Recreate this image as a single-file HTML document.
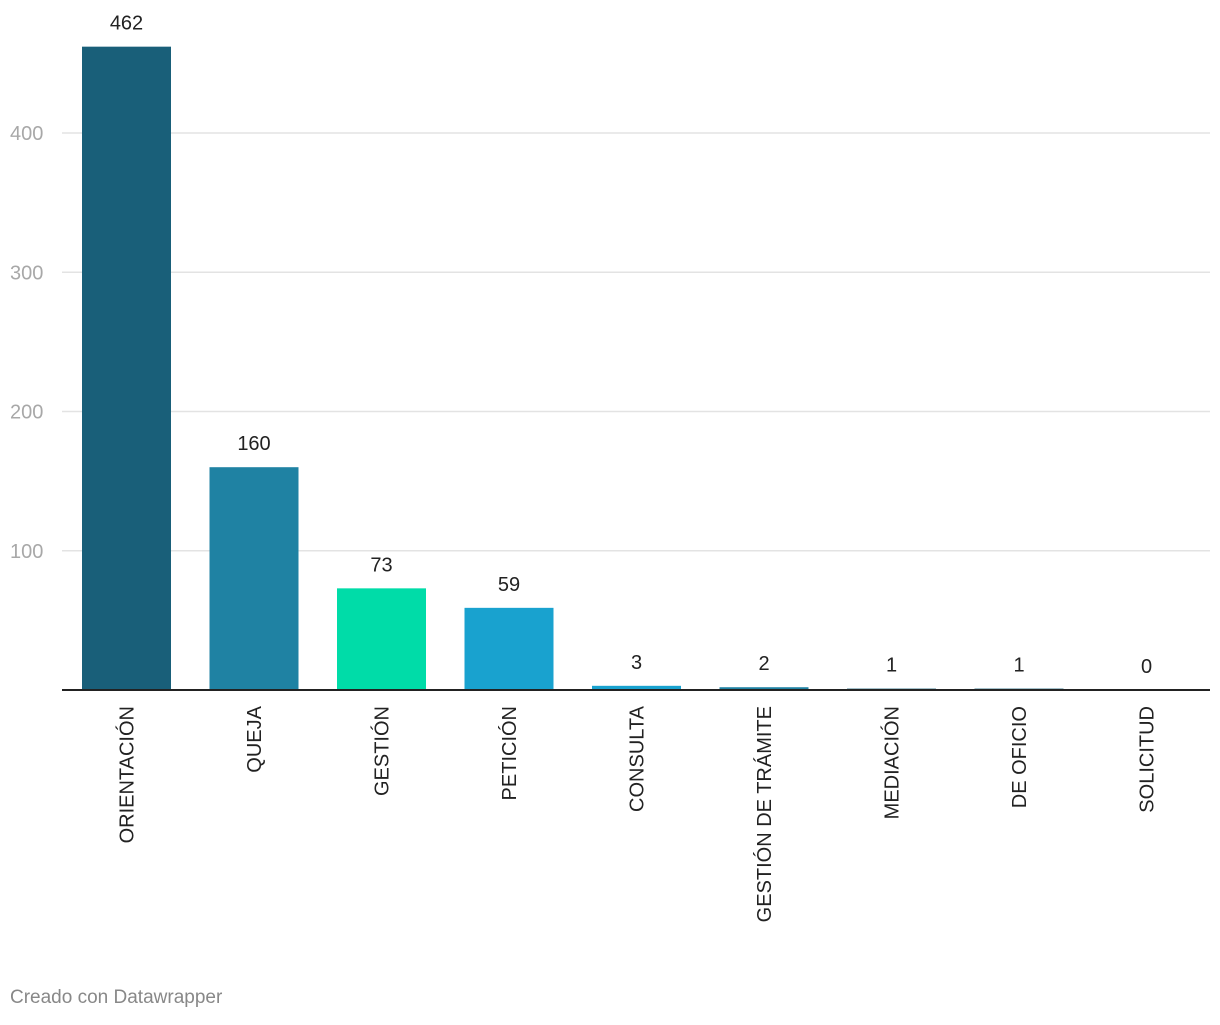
<!DOCTYPE html>
<html><head><meta charset="utf-8"><style>
body{margin:0;background:#fff;font-family:"Liberation Sans",sans-serif;}
svg text{font-family:"Liberation Sans",sans-serif;}
</style></head><body>
<svg width="1220" height="1020">
<g id="grid"></g><g id="bars"></g><g id="labels"></g>
<text x="10" y="1003" font-size="19" fill="#888">Creado con Datawrapper</text>
</svg>
<script>
const categories=["ORIENTACIÓN","QUEJA","GESTIÓN","PETICIÓN","CONSULTA","GESTIÓN DE TRÁMITE","MEDIACIÓN","DE OFICIO","SOLICITUD"];
const values=[462,160,73,59,3,2,1,1,0];
const colors=["#195f79","#1f82a3","#00dca8","#19a2cf","#19a2cf","#1f82a3","#195f79","#195f79","#195f79"];
const ticks=[100,200,300,400];
const NS="http://www.w3.org/2000/svg";
const y0=690,pxPer=1.3925,x0=82,step=127.5,bw=89;
const y=v=>y0-v*pxPer;
const x=i=>x0+i*step;
function mk(t,a,p){const e=document.createElementNS(NS,t);for(const k in a)e.setAttribute(k,a[k]);p.appendChild(e);return e;}
const grid=document.getElementById('grid'),bars=document.getElementById('bars'),labels=document.getElementById('labels');
ticks.forEach(t=>{
 const l=mk('line',{x1:62,x2:1210,y1:y(t),y2:y(t),stroke:'#e3e3e3','stroke-width':1.5},grid);
 
 
 const tx=mk('text',{x:10,y:y(t)+7,'font-size':20,fill:'#a8a8a8'},grid);tx.textContent=t;
 
 
});
categories.forEach((c,i)=>{
 const h=Math.max(values[i]*pxPer,0);
 const r=mk('rect',{x:x(i),y:y(values[i]),width:bw,height:h,fill:colors[i]},bars);
 
 
 const v=mk('text',{x:x(i)+bw/2,y:y(values[i])-17,'font-size':20,fill:'#222','text-anchor':'middle'},labels);v.textContent=values[i];
 
 
 const cx=x(i)+bw/2+7;
 const t=mk('text',{x:cx,y:706,'font-size':20,fill:'#222','text-anchor':'end',transform:`rotate(-90 ${cx} 706)`},labels);t.textContent=c;
 
 
});
const ax=mk('line',{x1:62,x2:1210,y1:y0,y2:y0,stroke:'#222','stroke-width':2},labels);


</script>
</body></html>
